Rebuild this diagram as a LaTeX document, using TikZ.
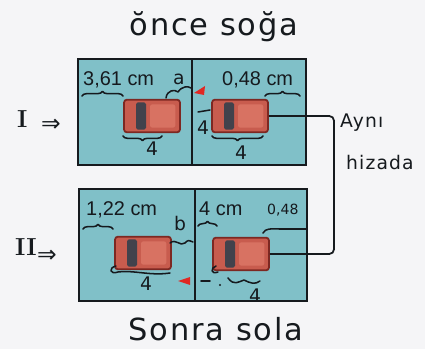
\documentclass[tikz,border=0pt]{standalone}
\usepackage{fontspec}
\setmainfont{Liberation Sans}
\newfontfamily\hand[LetterSpace=6]{DejaVu Sans}
\newfontfamily\handtight{DejaVu Sans}
\newfontfamily\romanfont{Latin Modern Roman}
\usetikzlibrary{decorations.pathreplacing}
\definecolor{paper}{RGB}{245,245,247}
\definecolor{panelfill}{RGB}{128,192,200}
\definecolor{ink}{RGB}{22,26,30}
\definecolor{carbody}{RGB}{200,92,78}
\definecolor{carlight}{RGB}{216,114,98}
\definecolor{carrim}{RGB}{125,40,34}
\definecolor{carglass}{RGB}{66,66,76}
\definecolor{flag}{RGB}{225,40,35}
\begin{document}
\begin{tikzpicture}[x=0.03cm, y=-0.03cm,
  cell/.style={draw=ink, fill=panelfill, line width=1.5pt},
  car/.style={rectangle, draw=carrim, fill=carbody, line width=1.5pt,
    rounded corners=2.5pt, minimum width=1.68cm, minimum height=0.98cm,
    inner sep=0pt, path picture={
      \fill[carlight, rounded corners=2pt]
        ([xshift=0.78cm,yshift=-0.14cm]path picture bounding box.north west)
        rectangle ([xshift=-0.14cm,yshift=0.14cm]path picture bounding box.south east);
      \fill[carglass, rounded corners=1.5pt]
        ([xshift=0.36cm,yshift=-0.08cm]path picture bounding box.north west)
        rectangle ([xshift=0.66cm,yshift=0.08cm]path picture bounding box.south west);}},
  title/.style={font={\hand\fontsize{26}{30}\selectfont}, text=ink, inner sep=0pt},
  note/.style={font={\hand\fontsize{16}{18}\selectfont}, text=ink, inner sep=0pt, anchor=base west},
  digit/.style={font={\handtight\fontsize{16}{18}\selectfont}, text=ink, inner sep=0pt},
  lbl/.style={font={\fontsize{17}{20}\selectfont}, text=ink, inner sep=0pt, anchor=base west},
  roman/.style={font={\romanfont\bfseries\fontsize{21}{22}\selectfont}, text=ink, inner sep=0pt, anchor=base west},
  implies/.style={font={\handtight\fontsize{20}{20}\selectfont}, text=ink, inner sep=0pt, anchor=base west},
  pen/.style={draw=ink, line width=1.3pt, line cap=round, line join=round},
  over/.style={pen, decorate, decoration={brace, amplitude=4pt}},
  under/.style={pen, decorate, decoration={brace, amplitude=4pt, mirror}},
  connector/.style={draw=ink, line width=1.5pt, rounded corners=4pt},
  flagtip/.style={fill=flag, draw=none}]

\fill[paper] (0,0) rectangle (425,349);
\useasboundingbox (0,0) rectangle (425,349);

% titles
\node[title] (before) at (214,27) {ŏnce soğa};
\node[title] (after) at (216,329) {Sonra sola};

% row markers
\node[roman] (rowI) at (17,128) {I};
\node[implies] (rowIarrow) at (41,132) {⇒};
\node[roman] (rowII) at (15,256) {II};
\node[implies] (rowIIarrow) at (37,263) {⇒};

% panels
\draw[cell] (78,59) rectangle (192,165);
\draw[cell] (192,59) rectangle (306,165);
\draw[cell] (79,189) rectangle (195,301);
\draw[cell] (195,189) rectangle (307,301);

% printed distances
\node[lbl] (d1) at (83,86) {3,61 cm};
\node[lbl] (d2) at (222,86) {0,48 cm};
\node[lbl] (d3) at (86,216) {1,22 cm};
\node[lbl] (d4) at (199,216) {4 cm};

% cars
\node[car] (car1) at (152,116) {};
\node[car] (car2) at (240,116) {};
\node[car] (car3) at (143,253) {};
\node[car] (car4) at (241,254) {};

% same line connector
\coordinate (rail) at (334,118);
\draw[connector] (car2.east) -- (car2.east -| rail) -- (car4.east -| rail) -- (car4.east);
\node[note] (same1) at (340,128) {Aynı};
\node[note] (same2) at (346,170) {hizada};

% --- first row annotations
\draw[over] (82,96) -- (123,96);
\draw[pen] (166,98) .. controls (167,90) and (175,89) .. (178,92) .. controls (182,86) and (188,86) .. (191,88);
\node[note] (a) at (173,85) {a};
\draw[under] (123,136) -- (162,136);
\node[digit] (four1) at (152,149) {4};
\fill[flagtip] (194,93) -- (205,86) -- (204,95) -- cycle;

\draw[over] (265,96) -- (300,96);
\draw[pen] (198,112) -- (210,110);
\node[digit] (four2) at (203,128) {4};
\draw[under] (212,136) -- (263,136);
\node[digit] (four3) at (241,153) {4};

% --- second row annotations
\draw[over] (83,229) -- (113,229);
\node[note] (b) at (174,231) {b};
\draw[pen] (170,243) .. controls (176,238) and (180,247) .. (185,243) .. controls (188,240) .. (193,242);
\draw[pen] (116,266) .. controls (108,268) and (110,275) .. (118,272) .. controls (135,270) and (150,276) .. (170,273);
\node[digit] (four4) at (146,284) {4};
\fill[flagtip] (178,281) -- (190,277) -- (190,285) -- cycle;
\draw[pen] (201,281) -- (210,281);
\fill[ink] (220,285) circle (1.2);

\draw[over] (198,226) -- (217,226);
\node[note, font={\handtight\fontsize{12}{14}\selectfont}] (small) at (267,215) {0,48};
\draw[pen] (263,233) .. controls (266,228) and (270,229) .. (280,229) -- (306,229);
\draw[pen] (216,266) .. controls (210,268) and (211,275) .. (218,272);
\draw[pen] (228,278) .. controls (234,286) and (238,282) .. (244,280) .. controls (250,283) and (255,285) .. (260,281);
\node[digit] (four5) at (255,296) {4};
\end{tikzpicture}
\end{document}
